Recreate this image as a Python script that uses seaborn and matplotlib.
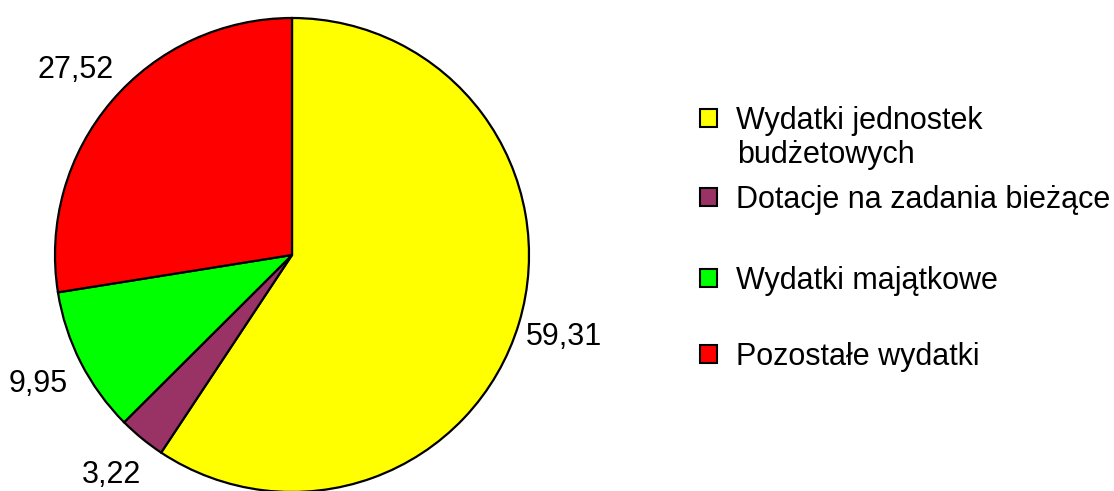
import matplotlib
matplotlib.use("Agg")
import matplotlib.pyplot as plt
import matplotlib.patches as mpatches
import seaborn as sns

sns.set_theme(style="white")
plt.rcParams['font.family'] = ['Liberation Sans', 'DejaVu Sans']

categories = ["Wydatki jednostek\nbudżetowych", "Dotacje na zadania bieżące",
              "Wydatki majątkowe", "Pozostałe wydatki"]
values = [59.31, 3.22, 9.95, 27.52]
colors = ["#FFFF00", "#993366", "#00FF00", "#FF0000"]
legend_y = [121, 200, 281, 357]  # legend entry centers (px from top)

W, H = 1114, 491
fig = plt.figure(figsize=(W / 100, H / 100), dpi=100)
cx, cy, R = 292, 255, 237
ax = fig.add_axes([(cx - R) / W, (H - cy - R) / H, 2 * R / W, 2 * R / H])
ax.set_xlim(-1, 1)
ax.set_ylim(-1, 1)
ax.set_aspect("equal")
ax.axis("off")

fs = 22

def fmt(p):
    return f"{p:.2f}".replace(".", ",")

wedges, texts, autotexts = ax.pie(
    values, colors=colors, startangle=90, counterclock=False, radius=1.0,
    autopct=fmt, pctdistance=1.2,
    wedgeprops=dict(edgecolor="black", linewidth=1.6),
    textprops=dict(fontsize=fs, color="black"))
ax.set_xlim(-1, 1)
ax.set_ylim(-1, 1)

for lab, col, y in zip(categories, colors, legend_y):
    h = mpatches.Patch(facecolor=col, edgecolor="black", linewidth=1.5)
    leg = fig.legend(handles=[h], labels=[lab.split("\n")[0]], loc="center left",
                     bbox_to_anchor=(700 / W, 1 - y / H), frameon=False,
                     fontsize=fs, handlelength=0.55, handleheight=0.55,
                     handletextpad=0.62, borderpad=0, borderaxespad=0,
                     labelcolor="black")
    if "\n" in lab:
        fig.text(737 / W, 1 - 155 / H, lab.split("\n")[1], fontsize=fs,
                 va="center", ha="left", color="black")

fig.savefig("out.png", dpi=100)
